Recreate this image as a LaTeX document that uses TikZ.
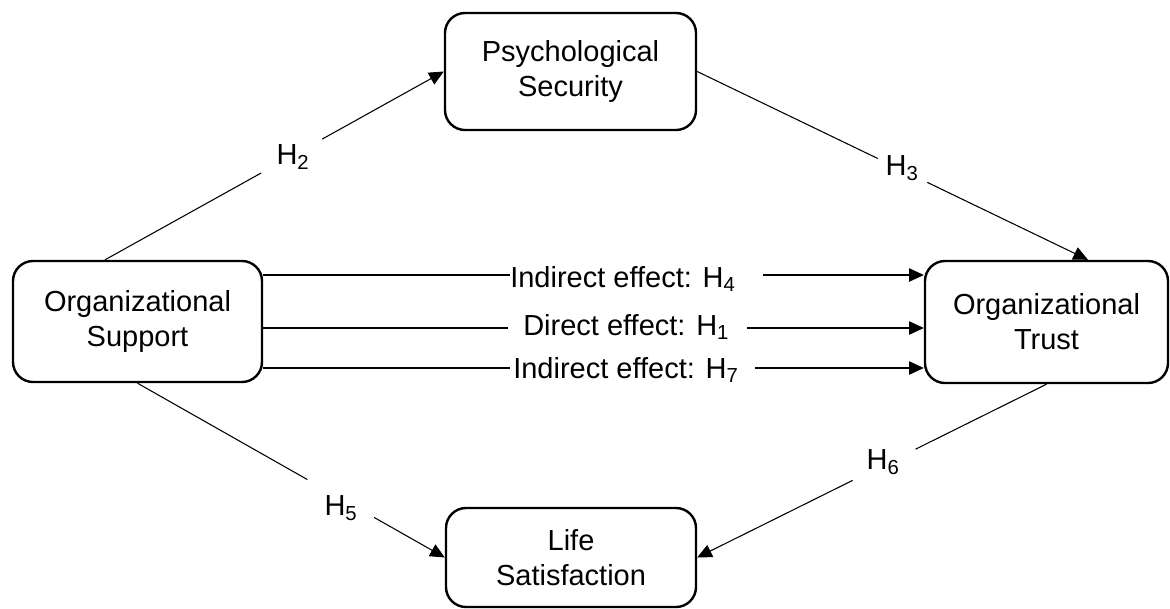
\documentclass[tikz,border=0pt]{standalone}
\usepackage{fontspec}
\setmainfont{Liberation Sans}
\usetikzlibrary{arrows.meta,calc}
\begin{document}
\begin{tikzpicture}[x=0.75pt,y=-0.75pt,
  box/.style={draw, line width=1.8pt, rounded corners=15pt, align=center, inner sep=0pt,
    font=\fontsize{21.75}{26.25}\selectfont},
  conn/.style={line width=0.8pt},
  arr/.style={conn, -{Triangle[length=11pt,width=10pt]}},
  lbl/.style={inner sep=0pt, font=\fontsize{21.75}{26.25}\selectfont}]
\useasboundingbox (0,0) rectangle (1170,608);

% boxes
\node[box, minimum width=188.25pt, minimum height=87.75pt] (ps) at (570.5,71.5) {Psychological\\Security};
\node[box, minimum width=186.75pt, minimum height=90.75pt] (os) at (137.5,321.5) {Organizational\\Support};
\node[box, minimum width=182.25pt, minimum height=91.5pt] (ot) at (1046.5,322) {Organizational\\Trust};
\node[box, minimum width=187.5pt, minimum height=74.25pt] (ls) at (571,557.5) {Life\\Satisfaction};

% horizontal connectors
\coordinate (a4) at (510,275); \coordinate (b4) at (763,275);
\coordinate (a1) at (508,328); \coordinate (b1) at (747,328);
\coordinate (a7) at (510,368); \coordinate (b7) at (755,368);
\draw[conn] (os.east |- a4) -- (a4);
\draw[arr] (b4) -- (ot.west |- b4);
\draw[conn] (os.east |- a1) -- (a1);
\draw[arr] (b1) -- (ot.west |- b1);
\draw[conn] (os.east |- a7) -- (a7);
\draw[arr] (b7) -- (ot.west |- b7);
\node[lbl, anchor=base west] (t4) at (510,287) {Indirect effect: H\textsubscript{4}};
\node[lbl, anchor=base west] (t1) at (523,335) {Direct effect: H\textsubscript{1}};
\node[lbl, anchor=base west] (t7) at (513,378) {Indirect effect: H\textsubscript{7}};

% H2
\coordinate (s2) at ($(os.north)+(-32.5,0)$);
\draw[conn] (s2) -- ($(s2)!0.461!(ps.west)$);
\draw[arr] ($(s2)!0.641!(ps.west)$) -- (ps.west);
\node[lbl] (h2) at (293,157) {H\textsubscript{2}};

% H3
\coordinate (e3) at ($(ot.north)+(41.5,0)$);
\draw[conn] (ps.east) -- ($(ps.east)!0.462!(e3)$);
\draw[arr] ($(ps.east)!0.589!(e3)$) -- (e3);
\node[lbl] (h3) at (902,168) {H\textsubscript{3}};

% H5
\draw[conn] (os.south) -- ($(os.south)!0.553!(ls.west)$);
\draw[arr] ($(os.south)!0.770!(ls.west)$) -- (ls.west);
\node[lbl] (h5) at (341,508) {H\textsubscript{5}};

% H6
\draw[conn] (ot.south) -- ($(ot.south)!0.375!(ls.east)$);
\draw[arr] ($(ot.south)!0.555!(ls.east)$) -- (ls.east);
\node[lbl] (h6) at (883,462) {H\textsubscript{6}};
\end{tikzpicture}
\end{document}
